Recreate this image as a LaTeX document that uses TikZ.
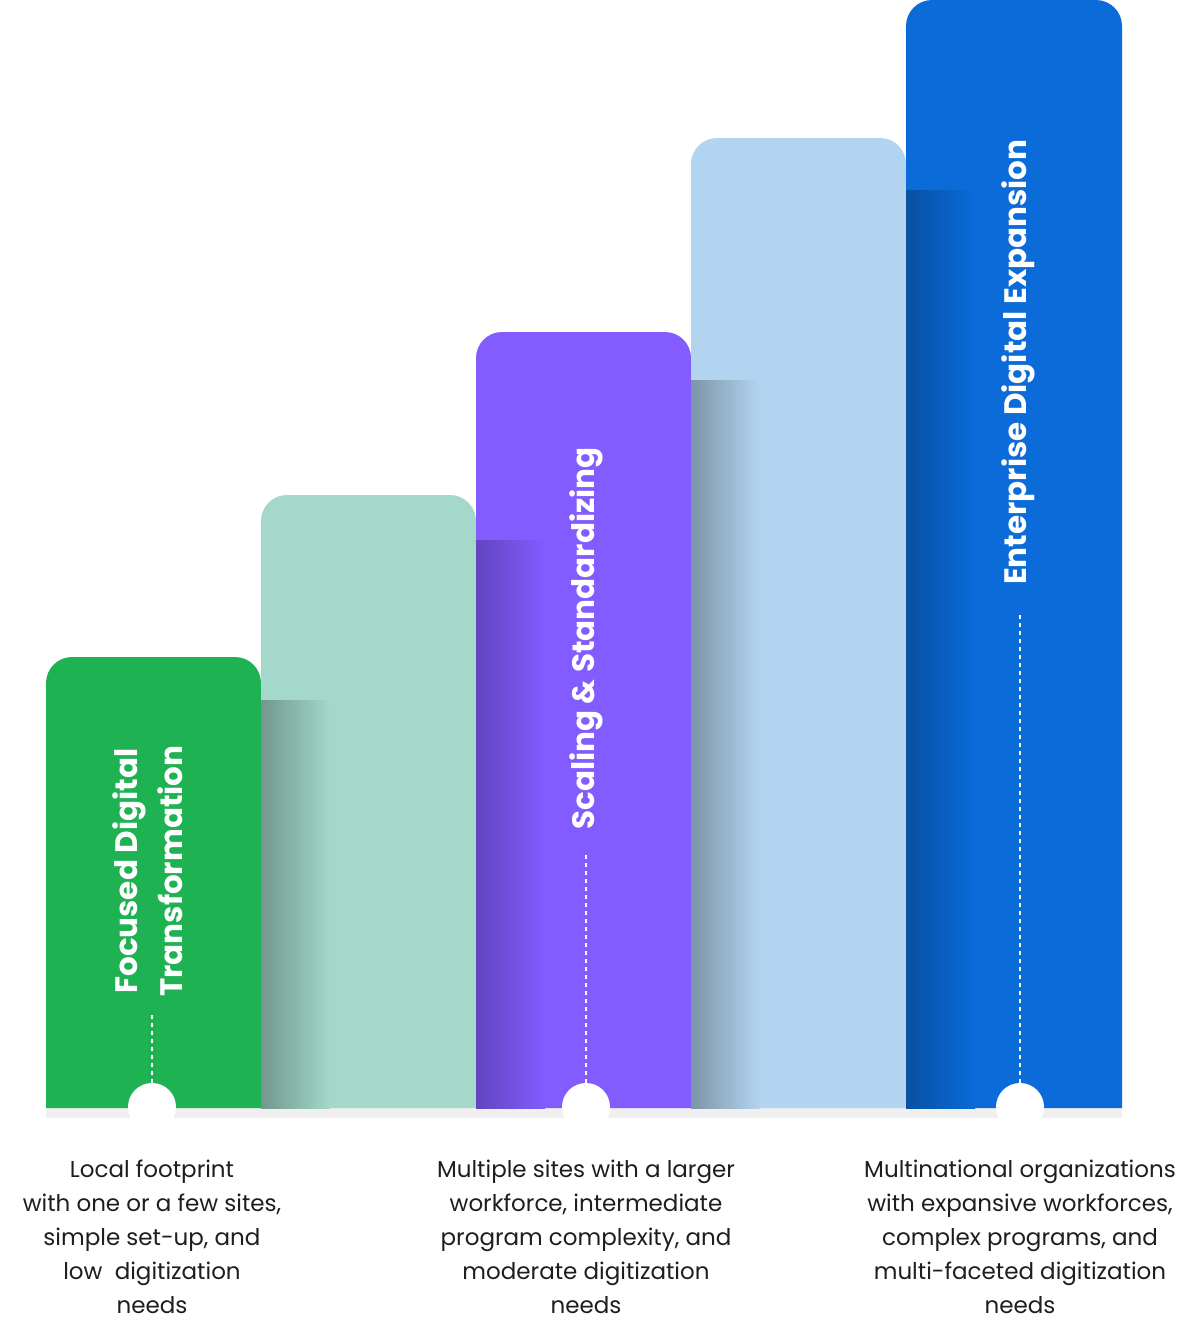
\documentclass[tikz,border=0pt]{standalone}
\usepackage{fontspec}
\setmainfont{Poppins}
\definecolor{cgreen}{RGB}{31,178,82}
\definecolor{cmint}{RGB}{163,216,203}
\definecolor{cpurple}{RGB}{130,92,255}
\definecolor{clblue}{RGB}{179,212,240}
\definecolor{cblue}{RGB}{10,107,217}
\definecolor{ctext}{RGB}{30,30,30}
\tikzset{
  title/.style={text=white,font=\fontsize{31}{45}\selectfont\bfseries,rotate=90,align=center,anchor=west,inner sep=0pt},
  desc/.style={text=ctext,font=\fontsize{23}{34}\selectfont,align=center,anchor=north,inner sep=0pt},
  dot/.style={circle,fill=white,minimum size=48pt,inner sep=0pt},
  dline/.style={white,line width=2pt,dash pattern=on 4pt off 4pt},
}
\begin{document}
\begin{tikzpicture}[x=1pt,y=-1pt]
\useasboundingbox (0,0) rectangle (1200,1331);
\fill[white] (0,0) rectangle (1200,1331);
% ground shadow
\fill[black!6] (46,1108) rectangle (1122,1118);
% bars
\fill[cgreen] (46,1108) [rounded corners=26] -- (46,657) -- (261,657) [sharp corners] -- (261,1108) -- cycle;
\fill[cmint] (261,1108) [rounded corners=26] -- (261,495) -- (476,495) [sharp corners] -- (476,1108) -- cycle;
\fill[cpurple] (476,1108) [rounded corners=26] -- (476,332) -- (691,332) [sharp corners] -- (691,1108) -- cycle;
\fill[clblue] (691,1108) [rounded corners=26] -- (691,138) -- (906,138) [sharp corners] -- (906,1108) -- cycle;
\fill[cblue] (906,1108) [rounded corners=26] -- (906,0) -- (1122,0) [sharp corners] -- (1122,1108) -- cycle;
% shadows cast by left neighbours
\shade[left color=cmint!70!black,right color=cmint] (261,700) rectangle (330,1108);
\shade[left color=cpurple!75!black,right color=cpurple] (476,540) rectangle (545,1108);
\shade[left color=clblue!70!black,right color=clblue] (691,380) rectangle (760,1108);
\shade[left color=cblue!75!black,right color=cblue] (906,190) rectangle (975,1108);
% titles
\node[title] (t1) at (148,997) {Focused Digital\\Transformation};
\node[title] (t3) at (586,830) {Scaling \& Standardizing};
\node[title] (t5) at (1018,585) {Enterprise Digital Expansion};
% dots
\node[dot] (d1) at (152,1107) {};
\node[dot] (d3) at (586,1107) {};
\node[dot] (d5) at (1020,1107) {};
\coordinate (a1) at (152,1015);
\coordinate (a3) at (586,855);
\coordinate (a5) at (1020,615);
\draw[dline] (a1) -- (d1);
\draw[dline] (a3) -- (d3);
\draw[dline] (a5) -- (d5);
% descriptions
\node[desc] (e1) at (152,1160) {Local footprint\\with one or a few sites,\\simple set-up, and\\low\ \ digitization\\needs};
\node[desc] (e3) at (586,1160) {Multiple sites with a larger\\workforce, intermediate\\program complexity, and\\moderate digitization\\needs};
\node[desc] (e5) at (1020,1160) {Multinational organizations\\with expansive workforces,\\complex programs, and\\multi-faceted digitization\\needs};
\end{tikzpicture}
\end{document}
